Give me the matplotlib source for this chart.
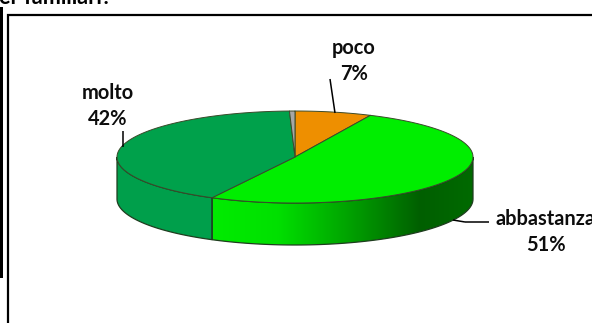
import numpy as np
import matplotlib
matplotlib.use("Agg")
import matplotlib.pyplot as plt
from matplotlib.colors import LinearSegmentedColormap
from matplotlib.patches import Polygon, Rectangle

# Survey shares, clockwise from twelve o'clock
categories = ["poco", "abbastanza", "molto", "altro"]
values = [7, 51, 42, 0.5]
labelled = ["poco", "abbastanza", "molto"]
top_colors = ["#EE8F00", "#00EE00", "#00A14B", "#A6A6A6"]

WIDTH, HEIGHT = 592, 323
CX, CY, RX, RY, DEPTH = 295, 157, 178, 46, 42
EDGE = "#1F3D1F"
plt.rcParams["font.family"] = ["Lato", "DejaVu Sans"]

fig = plt.figure(figsize=(WIDTH / 100, HEIGHT / 100), dpi=100)
ax = fig.add_axes([0, 0, 1, 1])


def rim(start, stop, n=80):
    t = np.radians(np.linspace(start, stop, n))
    return np.column_stack([CX + RX * np.sin(t), CY - RY * np.cos(t)])


# Wedge boundaries in degrees, clockwise from the top
total = sum(values)
edges = {}
angle = 0.0
for name, value in zip(categories, values):
    edges[name] = (angle, angle + 360 * value / total)
    angle += 360 * value / total

# Side wall of the disc, only the front half is visible
side_maps = {
    "abbastanza": LinearSegmentedColormap.from_list(
        "side_a",
        [(0.0, "#00EC00"), (0.25, "#00E000"), (0.50, "#00A800"),
         (0.80, "#005F00"), (1.0, "#006A00")]),
    "molto": LinearSegmentedColormap.from_list(
        "side_m", [(0.0, "#009F4B"), (1.0, "#00A04C")]),
}
for name, cmap in side_maps.items():
    a, b = edges[name]
    a, b = max(a, 90), min(b, 270)
    top = rim(a, b)
    bottom = top[::-1] + [0, DEPTH]
    outline = np.vstack([top, bottom])
    patch = Polygon(outline, closed=True, facecolor="none", edgecolor=EDGE, lw=0.9, zorder=3)
    ax.add_patch(patch)
    x0, x1 = outline[:, 0].min(), outline[:, 0].max()
    y0, y1 = outline[:, 1].min(), outline[:, 1].max()
    img = ax.imshow(np.linspace(0, 1, 256)[None, :], cmap=cmap, aspect="auto",
                    extent=(x0, x1, y1, y0), zorder=2, interpolation="bilinear")
    img.set_clip_path(patch)

ax.set_xlim(0, WIDTH)
ax.set_ylim(HEIGHT, 0)
ax.axis("off")

# Top face of the disc
for name, color in zip(categories, top_colors):
    a, b = edges[name]
    pts = np.vstack([[CX, CY], rim(a, b), [CX, CY]])
    ax.add_patch(Polygon(pts, closed=True, facecolor=color, edgecolor="#3A4A2A",
                         lw=0.7, zorder=4, joinstyle="round"))

# Leader lines
leaders = [((123, 131), (123, 147)), ((330, 79), (335, 113)),
           ((453, 220), (465, 222)), ((465, 222), (489, 222))]
for p, q in leaders:
    ax.plot([p[0], q[0]], [p[1], q[1]], color="black", lw=1.1, zorder=5,
            solid_capstyle="butt")

# Category and percentage labels
positions = {"poco": (354, 61), "abbastanza": (546, 232), "molto": (108, 106)}
for name in labelled:
    x, y = positions[name]
    val = values[categories.index(name)]
    ax.text(x, y, f"{name}\n{val}%", ha="center", va="center", fontsize=14.4,
            fontweight="bold", color="#0D0D0D", linespacing=1.4, zorder=6, clip_on=True)

# Chart frame and the clipped heading above it
ax.plot([7.5, 7.5, WIDTH], [HEIGHT, 14.5, 14.5], color="black", lw=1.6, zorder=7,
        solid_joinstyle="miter")
ax.add_patch(Rectangle((0, 7), 3, 271, facecolor="black", edgecolor="none", zorder=7))
ax.text(-1, 3.5, "er familiari?", ha="left", va="baseline", fontsize=15.6,
        fontweight="bold", color="black", zorder=7)

fig.savefig("out.png", dpi=100)
